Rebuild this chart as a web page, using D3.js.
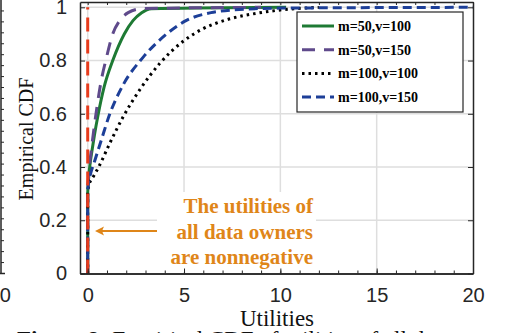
<!DOCTYPE html>
<meta charset="utf-8">
<style>
    html, body { margin: 0; background: #fff; }
    svg { display: block; }
    .tick text { font-family: "Liberation Sans", Arial, sans-serif; font-size: 20px; fill: #262626; }
    .axis path, .axis line { stroke: #262626; }
    .grid line { stroke: #dedede; stroke-width: 1.5px; }
    .lbl { font-family: "Liberation Serif", "Times New Roman", serif; font-size: 23px; fill: #111; }
    .leg { font-family: "Liberation Serif", serif; font-size: 14px; font-weight: bold; fill: #000; }
    .note { font-family: "Liberation Serif", serif; font-size: 21px; font-weight: bold; fill: #df8619; }
</style>
<body>
<script src="https://d3js.org/d3.v7.min.js"></script>
<script>

// series (utility, empirical cdf)
var names = ["m=50,v=100", "m=50,v=150", "m=100,v=100", "m=100,v=150"];

var util50_100 = [0, 0, 0.05, 0.12, 0.22, 0.35, 0.55, 0.85, 1.3, 1.9, 2.35, 2.8, 3.3, 10.3];
var cdf50_100  = [0, 0.3, 0.36, 0.41, 0.46, 0.52, 0.6, 0.7, 0.8, 0.9, 0.95, 0.98, 0.995, 1];

var util50_150 = [0, 0, 0.04, 0.1, 0.18, 0.3, 0.47, 0.69, 0.97, 1.3, 1.66, 2.1, 2.8, 9];
var cdf50_150  = [0, 0.3, 0.36, 0.41, 0.46, 0.53, 0.62, 0.72, 0.81, 0.9, 0.95, 0.98, 0.995, 1];

var util100_100 = [0, 0, 0.05, 0.3, 0.57, 1.15, 1.85, 2.7, 3.75, 5.0, 6.0, 7.2, 8.8, 10, 12];
var cdf100_100  = [0, 0.3, 0.33, 0.365, 0.4, 0.49, 0.59, 0.69, 0.79, 0.875, 0.92, 0.953, 0.978, 0.99, 1];

var util100_150 = [0, 0, 0.05, 0.15, 0.35, 0.7, 1.15, 1.85, 2.85, 4.1, 5.1, 6.4, 7.5, 10, 20];
var cdf100_150  = [0, 0.3, 0.345, 0.375, 0.42, 0.5, 0.6, 0.71, 0.81, 0.9, 0.95, 0.98, 0.99, 0.997, 1];

var xTicks = [0, 5, 10, 15, 20];
var yTicks = [0, 0.2, 0.4, 0.6, 0.8, 1];
var noteLines = ["The utilities of", "all data owners", "are nonnegative"];

var width = 517, height = 333;

var x = d3.scaleLinear().domain([-0.4, 20]).range([80, 473]);
var y = d3.scaleLinear().domain([0, 1.02]).range([273.5, 2]);

var svg = d3.select("body").append("svg")
    .attr("width", width)
    .attr("height", height);

// bit of the neighbouring subplot on the left
var ny = d3.scaleLinear().domain([0, 1]).range([273.5, 0]);
svg.append("line").attr("x1", 1).attr("x2", 1).attr("y1", 0).attr("y2", 273.5)
    .attr("stroke", "#262626").attr("stroke-width", 1.5);
svg.append("line").attr("x1", 0).attr("x2", 5).attr("y1", 273.5).attr("y2", 273.5)
    .attr("stroke", "#262626").attr("stroke-width", 1.5);
svg.selectAll(".ntick").data(d3.range(0, 1, 0.04)).enter().append("line")
    .attr("x1", 1).attr("x2", 4)
    .attr("y1", function (d) { return ny(d); }).attr("y2", function (d) { return ny(d); })
    .attr("stroke", "#262626").attr("stroke-width", 1);
svg.append("text").attr("x", 11).attr("y", 302).attr("text-anchor", "end")
    .attr("font-family", "Liberation Sans, sans-serif").attr("font-size", 20).attr("fill", "#262626")
    .text("20");

// grid
var grid = svg.append("g").attr("class", "grid");
grid.selectAll(".gx").data(xTicks.slice(0, 4)).enter().append("line")
    .attr("x1", function (d) { return x(d); }).attr("x2", function (d) { return x(d); })
    .attr("y1", y.range()[0]).attr("y2", y.range()[1]);
grid.selectAll(".gy").data(yTicks.slice(1)).enter().append("line")
    .attr("x1", x.range()[0]).attr("x2", x.range()[1])
    .attr("y1", function (d) { return y(d); }).attr("y2", function (d) { return y(d); });

// white box behind the annotation
svg.append("rect").attr("x", 157).attr("y", 192).attr("width", 159).attr("height", 80)
    .attr("fill", "#fff");

// curves
var line = d3.line()
    .x(function (d) { return x(d[0]); })
    .y(function (d) { return y(d[1]); })
    .curve(d3.curveMonotoneX);

function pairs(a, b) { return a.map(function (v, i) { return [v, b[i]]; }); }

var series = [
    { name: names[0], data: pairs(util50_100, cdf50_100), color: "#1e7a34", dash: null, w: 3 },
    { name: names[1], data: pairs(util50_150, cdf50_150), color: "#5f4a8b", dash: "13,9", w: 3 },
    { name: names[2], data: pairs(util100_100, cdf100_100), color: "#000", dash: "2.5,4", w: 3 },
    { name: names[3], data: pairs(util100_150, cdf100_150), color: "#1d3f98", dash: "9,5", w: 3 }
];

var plot = svg.append("g");
plot.selectAll(".curve").data(series).enter().append("path")
    .attr("d", function (d) { return line(d.data); })
    .attr("fill", "none")
    .attr("stroke", function (d) { return d.color; })
    .attr("stroke-width", function (d) { return d.w; })
    .attr("stroke-dasharray", function (d) { return d.dash; });

// zero-utility marker
plot.append("line")
    .attr("x1", x(0)).attr("x2", x(0)).attr("y1", y(0)).attr("y2", y(1))
    .attr("stroke", "#e63b1c").attr("stroke-width", 3).attr("stroke-dasharray", "14,8");

// axes (box with inward ticks)
function styleAxis(g) {
    g.attr("class", "axis");
    g.select(".domain").attr("stroke-width", 1.5);
    g.selectAll(".tick line").attr("stroke-width", 1);
}
svg.append("g").attr("transform", "translate(0," + y.range()[0] + ")")
    .call(d3.axisBottom(x).tickValues(d3.range(0, 21)).tickSize(-3).tickSizeOuter(0).tickFormat(""))
    .call(styleAxis);
svg.append("g").attr("transform", "translate(0," + y.range()[0] + ")")
    .call(d3.axisBottom(x).tickValues(xTicks).tickSize(-5).tickSizeOuter(0).tickPadding(14))
    .call(styleAxis);
svg.append("g").attr("transform", "translate(0," + y.range()[1] + ")")
    .call(d3.axisTop(x).tickValues(d3.range(0, 21)).tickSize(-3).tickSizeOuter(0).tickFormat(""))
    .call(styleAxis);
svg.append("g").attr("transform", "translate(" + x.range()[0] + ",0)")
    .call(d3.axisLeft(y).tickValues(yTicks).tickSize(-5).tickSizeOuter(0).tickPadding(13).tickFormat(d3.format("~g")))
    .call(styleAxis);
svg.append("g").attr("transform", "translate(" + x.range()[1] + ",0)")
    .call(d3.axisRight(y).tickValues(yTicks).tickSize(-5).tickSizeOuter(0).tickFormat(""))
    .call(styleAxis);

// axis labels
svg.append("text").attr("class", "lbl")
    .attr("x", 277).attr("y", 326).attr("text-anchor", "middle").text("Utilities");
svg.append("text").attr("class", "lbl").style("font-size", "20px")
    .attr("transform", "translate(33,139) rotate(-90)").attr("text-anchor", "middle").text("Empirical CDF");

// caption (cut off by the bottom edge)
var cap = svg.append("text").attr("class", "lbl").attr("x", 17).attr("y", 347);
cap.append("tspan").attr("font-weight", "bold").text("Figure 8:");
cap.append("tspan").text(" Empirical CDF of utilities of all data owners.");

// annotation
svg.selectAll(".note").data(noteLines).enter().append("text").attr("class", "note")
    .attr("x", 313).attr("y", function (d, i) { return 213 + i * 25.5; })
    .attr("text-anchor", "end").text(function (d) { return d; });
svg.append("line").attr("x1", 157).attr("x2", 99).attr("y1", 231).attr("y2", 231)
    .attr("stroke", "#df8619").attr("stroke-width", 2);
svg.append("path").attr("d", "M95,231 L104,226.5 L102,231 L104,235.5 Z").attr("fill", "#df8619");

// legend
var leg = svg.append("g");
leg.append("rect").attr("x", 297).attr("y", 12).attr("width", 166).attr("height", 100)
    .attr("fill", "#fff").attr("stroke", "#262626").attr("stroke-width", 1.2);
var li = leg.selectAll(".li").data(series).enter().append("g")
    .attr("transform", function (d, i) { return "translate(0," + (26 + i * 23.7) + ")"; });
li.append("line").attr("x1", 302).attr("x2", 334)
    .attr("stroke", function (d) { return d.color; })
    .attr("stroke-width", function (d) { return d.w; })
    .attr("stroke-dasharray", function (d) { return d.dash; });
li.append("text").attr("class", "leg").attr("x", 338).attr("dy", "0.35em")
    .text(function (d) { return d.name; });

</script>
</body>
